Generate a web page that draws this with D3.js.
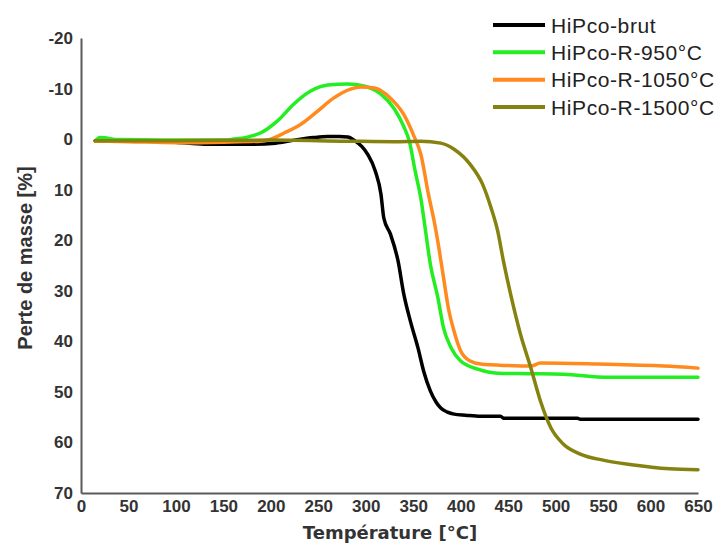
<!DOCTYPE html>
<html><head><meta charset="utf-8">
<script src="https://cdn.jsdelivr.net/npm/d3@7"></script>
<style>body{margin:0;background:#fff;} svg{display:block;}</style>
</head><body>
<svg id="chart" width="718" height="544"></svg>
<script>
// ---- data ----
const seriesNames = ["HiPco-brut", "HiPco-R-950°C", "HiPco-R-1050°C", "HiPco-R-1500°C"];
const seriesColors = ["#000000", "#22ee22", "#ff8a1e", "#868210"];

const brutTemp = [15, 50, 100, 130, 180, 205, 225, 245, 260, 272, 281, 289, 296, 302, 310, 316, 319, 326, 334, 340, 347, 355, 361, 368, 374, 379, 386, 393, 405, 421, 442, 445, 480, 523, 526, 580, 650];
const brutMass = [0.3, 0.3, 0.6, 1.0, 1.0, 0.8, 0.2, -0.3, -0.5, -0.5, -0.4, 0.4, 1.5, 3.0, 6.3, 10.9, 15.6, 18.8, 24.1, 30.6, 36.0, 41.3, 45.9, 49.8, 52.0, 53.2, 54.0, 54.4, 54.6, 54.8, 54.8, 55.2, 55.2, 55.2, 55.4, 55.4, 55.4];

const r950Temp = [15, 20, 40, 100, 150, 161, 175, 189, 207, 224, 242, 260, 281, 298, 316, 330, 340, 346, 352, 358, 363, 368, 376, 382, 390, 400, 418, 439, 470, 508, 555, 600, 650];
const r950Mass = [0.4, -0.3, 0.1, 0.2, 0.2, 0.0, -0.4, -1.2, -3.6, -6.9, -9.5, -10.7, -10.9, -10.5, -8.9, -6.0, -2.5, 0.5, 6.3, 11.7, 18.2, 24.7, 31.4, 37.4, 41.3, 43.9, 45.5, 46.3, 46.4, 46.5, 47.1, 47.1, 47.1];

const r1050Temp = [15, 50, 100, 150, 189, 200, 214, 232, 249, 266, 284, 295, 309, 326, 340, 351, 358, 366, 372, 377, 382, 387, 393, 400, 410, 421, 450, 474, 484, 544, 614, 650];
const r1050Mass = [0.4, 0.5, 0.7, 0.6, 0.4, 0.0, -1.2, -3.0, -5.5, -8.1, -9.9, -10.3, -10.1, -8.1, -4.9, -0.5, 3.0, 10.9, 16.2, 21.5, 27.5, 33.4, 38.0, 41.9, 43.9, 44.5, 44.8, 44.9, 44.3, 44.5, 44.9, 45.3];

const r1500Temp = [15, 100, 200, 280, 330, 358, 379, 393, 410, 423, 432, 439, 445, 453, 463, 474, 484, 495, 508, 526, 550, 580, 620, 650];
const r1500Mass = [0.3, 0.3, 0.2, 0.4, 0.5, 0.4, 0.8, 2.0, 5.0, 8.9, 13.6, 18.2, 24.1, 31.0, 38.6, 45.3, 51.8, 57.1, 60.3, 62.3, 63.5, 64.4, 65.2, 65.4];

const xTicks = [0, 50, 100, 150, 200, 250, 300, 350, 400, 450, 500, 550, 600, 650];
const yTicks = [-20, -10, 0, 10, 20, 30, 40, 50, 60, 70];

// ---- build ----
const series = [
  {name: seriesNames[0], color: seriesColors[0], t: brutTemp, m: brutMass},
  {name: seriesNames[1], color: seriesColors[1], t: r950Temp, m: r950Mass},
  {name: seriesNames[2], color: seriesColors[2], t: r1050Temp, m: r1050Mass},
  {name: seriesNames[3], color: seriesColors[3], t: r1500Temp, m: r1500Mass}
];

const svg = d3.select("#chart");
const x = d3.scaleLinear().domain([0, 650]).range([81, 698]);
const y = d3.scaleLinear().domain([-20, 70]).range([38, 493]);

const axisColor = "#5a5a5a";
const labelColor = "#333333";
const fmt = d => String(d);

// x axis
const gx = svg.append("g").attr("transform", `translate(0,${y(70)})`)
  .call(d3.axisBottom(x).tickValues(xTicks).tickSize(0).tickPadding(7).tickFormat(fmt));
gx.select(".domain").attr("stroke", axisColor).attr("stroke-width", 2);
gx.selectAll("text").attr("font-family", "'Liberation Sans', Arial, sans-serif")
  .attr("font-size", 17).attr("font-weight", "bold").attr("fill", labelColor);

// y axis
const gy = svg.append("g").attr("transform", `translate(${x(0)},0)`)
  .call(d3.axisLeft(y).tickValues(yTicks).tickSize(0).tickPadding(8).tickFormat(fmt));
gy.select(".domain").attr("stroke", axisColor).attr("stroke-width", 2);
gy.selectAll("text").attr("font-family", "'Liberation Sans', Arial, sans-serif")
  .attr("font-size", 17).attr("font-weight", "bold").attr("fill", labelColor);

// lines
const line = d3.line().x(d => x(d[0])).y(d => y(d[1])).curve(d3.curveMonotoneX);
const drawOrder = [1, 0, 2, 3];
drawOrder.forEach(i => {
  const s = series[i];
  svg.append("path")
    .datum(s.t.map((t, k) => [t, s.m[k]]))
    .attr("fill", "none").attr("stroke", s.color).attr("stroke-width", 3.5)
    .attr("stroke-linejoin", "round").attr("stroke-linecap", "round")
    .attr("d", line);
});

// axis titles
svg.append("text")
  .attr("transform", "translate(32,258) rotate(-90)")
  .attr("text-anchor", "middle")
  .attr("font-family", "'Liberation Sans', Arial, sans-serif")
  .attr("font-size", 20).attr("font-weight", "bold").attr("fill", labelColor)
  .text("Perte de masse [%]");

svg.append("text")
  .attr("x", 390).attr("y", 539)
  .attr("text-anchor", "middle")
  .attr("font-family", "'DejaVu Sans', Verdana, sans-serif")
  .attr("font-size", 18).attr("font-weight", "bold").attr("fill", labelColor)
  .text("Température [°C]");

// legend
const legendY = d3.scalePoint().domain(seriesNames).range([25, 107]);
const lg = svg.append("g");
series.forEach(s => {
  const yy = legendY(s.name);
  lg.append("line").attr("x1", 493).attr("x2", 545).attr("y1", yy).attr("y2", yy)
    .attr("stroke", s.color).attr("stroke-width", 4);
  lg.append("text").attr("x", 551).attr("y", yy + 7.5)
    .attr("font-family", "'Liberation Sans', Arial, sans-serif")
    .attr("font-size", 21).attr("fill", "#222")
    .attr("letter-spacing", 0.6)
    .text(s.name);
});
</script>
</body></html>
